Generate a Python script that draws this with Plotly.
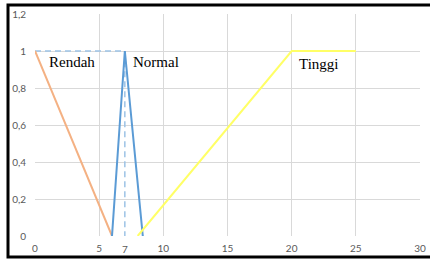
import plotly.graph_objects as go

rendah_x = [0, 6]
rendah_y = [1, 0]
normal_x = [6, 7, 8.4]
normal_y = [0, 1, 0]
tinggi_x = [8, 20, 25]
tinggi_y = [0, 1, 1]
guide_x = [0, 7, 7]
guide_y = [1, 1, 0]
x_ticks = [0, 5, 10, 15, 20, 25, 30]
y_ticks = [0, 0.2, 0.4, 0.6, 0.8, 1, 1.2]
labels = [("Rendah", 2.9, 0.94), ("Normal", 9.4, 0.94), ("Tinggi", 22.1, 0.93)]

W, H = 430, 265
L, T, R, B = 35, 14, 10, 29
PW, PH = W - L - R, H - T - B

fig = go.Figure()
fig.add_trace(go.Scatter(x=guide_x, y=guide_y, mode="lines",
                         line=dict(color="#9DC3E6", width=1.5, dash="6px,4px")))
fig.add_trace(go.Scatter(x=rendah_x, y=rendah_y, mode="lines",
                         line=dict(color="#F4B183", width=2)))
fig.add_trace(go.Scatter(x=normal_x, y=normal_y, mode="lines",
                         line=dict(color="#5B9BD5", width=2)))
fig.add_trace(go.Scatter(x=tinggi_x, y=tinggi_y, mode="lines",
                         line=dict(color="#FFFF66", width=2)))

for t, x, y in labels:
    fig.add_annotation(x=x, y=y, text=t, showarrow=False, xref="x", yref="y",
                       font=dict(family="Liberation Serif", size=15, color="#000000"))

fig.add_annotation(x=7, y=0, yref="paper", xref="x", text="7", showarrow=False,
                   yanchor="top", yshift=-5, font=dict(family="Lato", size=10, color="#595959"))

fig.add_shape(type="rect", xref="paper", yref="paper",
              x0=(8 - L) / PW, x1=(W + 2 - L) / PW,
              y0=(T + PH - 257) / PH, y1=(T + PH - 5) / PH,
              line=dict(color="#000000", width=3))

fig.update_layout(
    width=W, height=H,
    margin=dict(l=L, r=R, t=T, b=B, autoexpand=False),
    paper_bgcolor="white", plot_bgcolor="white",
    showlegend=False,
    separators=",.",
    font=dict(family="Lato", size=10, color="#595959"),
)
fig.update_xaxes(range=[0, 30], tickvals=x_ticks, showgrid=True, gridcolor="#D9D9D9",
                 gridwidth=1, zeroline=False, showline=False, ticks="", ticklen=0,
                 automargin=False, ticklabelstandoff=5, ticklabeloverflow="allow")
fig.update_yaxes(range=[0, 1.2], tickvals=y_ticks, showgrid=True, gridcolor="#D9D9D9",
                 gridwidth=1, zeroline=False, showline=False, ticks="", ticklabelstandoff=8,
                 automargin=False, ticklabeloverflow="allow")

fig.write_html("out.html", config={"displayModeBar": False},
               post_script="document.body.style.margin='0';document.body.style.overflow='hidden';")
